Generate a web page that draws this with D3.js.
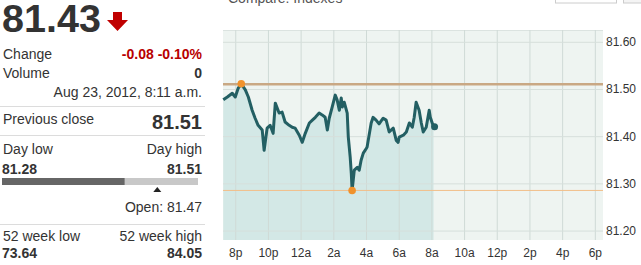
<!DOCTYPE html>
<html>
<head>
<meta charset="utf-8">
<script src="https://cdn.jsdelivr.net/npm/d3@7"></script>
<style>
  body { margin: 0; background: #fff; }
  svg { display: block; font-family: "Liberation Sans", Arial, sans-serif; }
</style>
</head>
<body>
<div id="chart"></div>
<script>
// quote data, Aug 22-23 2012
const times = [
  "08-22 19:16", "08-22 19:31", "08-22 19:49", "08-22 20:00", "08-22 20:11", "08-22 20:22",
  "08-22 20:37", "08-22 20:48", "08-22 21:02", "08-22 21:13", "08-22 21:24", "08-22 21:39",
  "08-22 21:46", "08-22 21:57", "08-22 22:08", "08-22 22:19", "08-22 22:27", "08-22 22:41",
  "08-22 22:52", "08-22 23:03", "08-22 23:18", "08-22 23:29", "08-22 23:40", "08-22 23:55",
  "08-23 00:06", "08-23 00:17", "08-23 00:32", "08-23 00:43", "08-23 00:54", "08-23 01:08",
  "08-23 01:19", "08-23 01:30", "08-23 01:38", "08-23 01:45", "08-23 01:56", "08-23 02:07",
  "08-23 02:14", "08-23 02:22", "08-23 02:29", "08-23 02:33", "08-23 02:40", "08-23 02:51",
  "08-23 02:55", "08-23 03:02", "08-23 03:06", "08-23 03:09", "08-23 03:17", "08-23 03:28",
  "08-23 03:35", "08-23 03:42", "08-23 03:50", "08-23 04:01", "08-23 04:04", "08-23 04:19",
  "08-23 04:26", "08-23 04:37", "08-23 04:48", "08-23 05:03", "08-23 05:14", "08-23 05:25",
  "08-23 05:40", "08-23 05:51", "08-23 05:58", "08-23 06:02", "08-23 06:17", "08-23 06:28",
  "08-23 06:39", "08-23 06:50", "08-23 06:57", "08-23 07:04", "08-23 07:15", "08-23 07:23",
  "08-23 07:30", "08-23 07:41", "08-23 07:52", "08-23 07:56", "08-23 08:03", "08-23 08:08"
];
const prices = [
  81.477, 81.483, 81.491, 81.483, 81.502, 81.511,
  81.498, 81.483, 81.455, 81.438, 81.423, 81.413,
  81.370, 81.417, 81.423, 81.406, 81.470, 81.449,
  81.451, 81.430, 81.423, 81.419, 81.417, 81.402,
  81.387, 81.406, 81.428, 81.434, 81.440, 81.449,
  81.445, 81.440, 81.413, 81.438, 81.462, 81.487,
  81.477, 81.455, 81.481, 81.462, 81.472, 81.449,
  81.398, 81.355, 81.321, 81.285, 81.328, 81.334,
  81.328, 81.349, 81.364, 81.374, 81.377, 81.428,
  81.440, 81.434, 81.426, 81.438, 81.434, 81.409,
  81.417, 81.391, 81.387, 81.398, 81.402, 81.409,
  81.428, 81.419, 81.440, 81.472, 81.455, 81.428,
  81.409, 81.419, 81.455, 81.440, 81.428, 81.420
];
const yTicks = [81.20, 81.30, 81.40, 81.50, 81.60];
const previousClose = 81.51;
const dayLow = 81.28, dayHigh = 81.51, openPrice = 81.47;
const lastPrice = 81.43;

const parse = d3.timeParse("%Y-%m-%d %H:%M");
const data = times.map((t, i) => ({ date: parse("2012-" + t), value: prices[i] }));

const W = 641, H = 265;
const svg = d3.select("#chart").append("svg").attr("width", W).attr("height", H);

// ---------- left quote panel ----------
const left = svg.append("g");
const R = 202;
const txt = (x, y, s, o = {}) => left.append("text")
  .attr("x", x).attr("y", y)
  .attr("text-anchor", o.anchor || "start")
  .attr("font-size", o.size || 14)
  .attr("font-weight", o.bold ? "bold" : "normal")
  .attr("fill", o.fill || "#333")
  .text(s);

txt(2, 32, d3.format(".2f")(lastPrice), { size: 39.5, bold: true, fill: "#333" });
// down arrow
left.append("path")
  .attr("d", "M113,12 L122,12 L122,20 L128,20 L117.5,31 L107,20 L113,20 Z")
  .attr("fill", "#c00000");

txt(3, 59, "Change");
txt(R, 59, "-0.08 -0.10%", { anchor: "end", bold: true, fill: "#b80000" });
txt(3, 78, "Volume");
txt(R, 78, "0", { anchor: "end", bold: true });
txt(R, 97, "Aug 23, 2012, 8:11 a.m.", { anchor: "end" });

const sep = y => left.append("line").attr("x1", 0).attr("x2", 205)
  .attr("y1", y).attr("y2", y).attr("stroke", "#dcdcdc");
sep(106.5);
txt(3, 124, "Previous close");
txt(R, 129, d3.format(".2f")(previousClose), { anchor: "end", size: 20, bold: true });
sep(135.5);
txt(3, 154, "Day low");
txt(R, 154, "Day high", { anchor: "end" });
txt(2, 174, d3.format(".2f")(dayLow), { bold: true });
txt(R, 174, d3.format(".2f")(dayHigh), { anchor: "end", bold: true });

const rangeX = d3.scaleLinear().domain([dayLow, dayHigh]).range([2, 190]);
left.append("rect").attr("x", 2).attr("y", 178).attr("width", 196).attr("height", 7).attr("fill", "#c8c8c8");
left.append("rect").attr("x", 2).attr("y", 178).attr("width", rangeX(lastPrice) - 2).attr("height", 7).attr("fill", "#666");
const tx = rangeX(openPrice);
left.append("path").attr("d", `M${tx - 4},192 L${tx + 4},192 L${tx},187 Z`).attr("fill", "#222");
txt(R, 212, "Open: " + d3.format(".2f")(openPrice), { anchor: "end" });
sep(224.5);
txt(3, 241, "52 week low");
txt(R, 241, "52 week high", { anchor: "end" });
txt(2, 258, "73.64", { bold: true });
txt(R, 258, "84.05", { anchor: "end", bold: true });

// top strip (cut-off compare row)
svg.append("text").attr("x", 228).attr("y", 3).attr("font-size", 14).attr("fill", "#555")
  .text("Compare: Indexes");
svg.append("rect").attr("x", 555.5).attr("y", -10).attr("width", 61).attr("height", 13)
  .attr("fill", "#fff").attr("stroke", "#ccc");
svg.append("rect").attr("x", 623.5).attr("y", -10).attr("width", 30).attr("height", 13)
  .attr("fill", "#f4f4f4").attr("stroke", "#ccc");

// ---------- chart ----------
const x0 = 223, x1 = 603, yTop = 30, yBot = 240;
const x = d3.scaleTime()
  .domain([parse("2012-08-22 19:15"), parse("2012-08-23 18:30")])
  .range([x0, x1]);
const y = d3.scaleLinear().domain([81.18, 81.625]).range([yBot, yTop]);

const plot = svg.append("g");
plot.append("rect").attr("x", x0).attr("y", yTop).attr("width", x1 - x0).attr("height", yBot - yTop)
  .attr("fill", "#eef4f1");
plot.append("line").attr("x1", x0).attr("x2", x1).attr("y1", yTop + 0.5).attr("y2", yTop + 0.5)
  .attr("stroke", "#dbe3e0");

plot.append("path").datum(data)
  .attr("d", d3.area().x(d => x(d.date)).y0(yBot).y1(d => y(d.value)))
  .attr("fill", "#d3e8e6");

const xTickVals = d3.timeHour.every(2).range(parse("2012-08-22 20:00"), parse("2012-08-23 18:01"));
const hourFmt = d => { const h = d.getHours(); return (h % 12 || 12) + (h < 12 ? "a" : "p"); };

// grid
plot.append("g").attr("transform", `translate(0,${yBot})`)
  .call(d3.axisBottom(x).tickValues(xTickVals).tickSize(-(yBot - yTop)).tickFormat(""))
  .call(g => g.select(".domain").remove())
  .call(g => g.selectAll("line").attr("stroke", "#cfdad6"));
plot.append("g").attr("transform", `translate(${x0},0)`)
  .call(d3.axisLeft(y).tickValues(yTicks).tickSize(-(x1 - x0)).tickFormat(""))
  .call(g => g.select(".domain").remove())
  .call(g => g.selectAll("line").attr("stroke", "#d6dfdb"));

// reference lines
plot.append("line").attr("x1", x0).attr("x2", x1)
  .attr("y1", y(previousClose)).attr("y2", y(previousClose))
  .attr("stroke", "#c9a884").attr("stroke-width", 2.5);
const lo = d3.least(data, d => d.value), hi = d3.greatest(data, d => d.value);
plot.append("line").attr("x1", x0).attr("x2", x1)
  .attr("y1", y(lo.value)).attr("y2", y(lo.value))
  .attr("stroke", "#f2bf8a").attr("stroke-width", 1);

plot.append("path").datum(data)
  .attr("d", d3.line().x(d => x(d.date)).y(d => y(d.value)))
  .attr("fill", "none").attr("stroke", "#235f63").attr("stroke-width", 3)
  .attr("stroke-linejoin", "round");

[hi, lo].forEach(d => plot.append("circle")
  .attr("cx", x(d.date)).attr("cy", y(d.value)).attr("r", 3.8).attr("fill", "#f0922c"));
const last = data[data.length - 1];
plot.append("circle").attr("cx", x(last.date) + 1).attr("cy", y(last.value)).attr("r", 3.5).attr("fill", "#235f63");

// axes labels
svg.append("g").attr("transform", `translate(0,${yBot})`)
  .call(d3.axisBottom(x).tickValues(xTickVals).tickSize(0).tickPadding(8).tickFormat(hourFmt))
  .call(g => g.select(".domain").remove())
  .call(g => g.selectAll("text").attr("font-size", 12).attr("fill", "#333")
    .attr("font-family", "'Liberation Sans', Arial, sans-serif"));
svg.append("g").attr("transform", `translate(${x1},0)`)
  .call(d3.axisRight(y).tickValues(yTicks).tickSize(0).tickPadding(3).tickFormat(d3.format(".2f")))
  .call(g => g.select(".domain").remove())
  .call(g => g.selectAll("text").attr("font-size", 12).attr("fill", "#333")
    .attr("font-family", "'Liberation Sans', Arial, sans-serif"));
</script>
</body>
</html>
